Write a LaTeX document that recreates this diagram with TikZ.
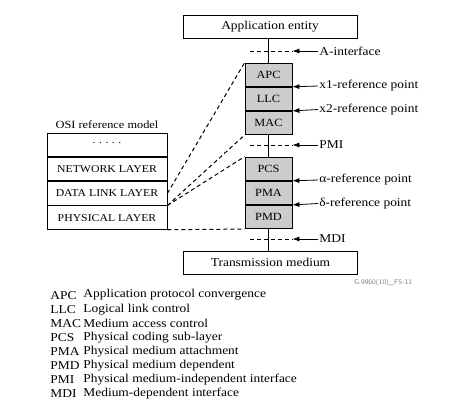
\documentclass[tikz,border=0pt]{standalone}
\usepackage{fontspec}
\setmainfont{Liberation Serif}[FakeStretch=1.12]
\usetikzlibrary{positioning,arrows.meta}

\tikzset{
  capa/.style={draw, fill=gray!40, minimum width=47pt, minimum height=23.33pt,
    inner sep=0pt, font=\fontsize{11}{12}\selectfont},
  osicapa/.style={draw, minimum width=120pt, minimum height=23.5pt,
    inner sep=0pt, font=\fontsize{10.5}{11}\selectfont},
  caja/.style={draw, minimum width=174pt, minimum height=23pt,
    inner sep=0pt, font=\fontsize{12}{13}\selectfont},
  etiq/.style={anchor=west, inner sep=1pt, font=\fontsize{12}{13}\selectfont},
  leyenda/.style={anchor=west, inner sep=0pt, font=\fontsize{12}{13}\selectfont},
  flecha/.style={-{Latex[length=7pt,width=5pt]}, line width=0.8pt},
  interfaz/.style={dash pattern=on 4pt off 3pt, line width=1pt},
  enlace/.style={dash pattern=on 4pt off 3pt, line width=1pt},
}

\begin{document}
\begin{tikzpicture}[x=1pt, y=-1pt, line width=0.8pt, node distance=0pt]
  \useasboundingbox (0,0) rectangle (470,400);
  % Cajas extremas
  \node[caja] (app) at (270,26.5) {Application entity};
  \node[caja] (med) at (270.5,262.5) {Transmission medium};
  % Pila superior
  \node[capa] (apc) at (268.5,74.7) {APC};
  \node[capa, below=of apc] (llc) {LLC};
  \node[capa, below=of llc] (mac) {MAC};
  % Pila inferior
  \node[capa] (pcs) at (268.5,168.7) {PCS};
  \node[capa, below=of pcs] (pma) {PMA};
  \node[capa, below=of pma] (pmd) {PMD};
  % Lineas verticales
  \draw (apc.north) -- (apc.north |- app.south);
  \draw (mac.south) -- (pcs.north);
  \draw (pmd.south) -- (pmd.south |- med.north);
  % Interfaces y puntos de referencia
  \node[etiq] (ainf) at (318,51) {A-interface};
  \node[etiq] (xone) at (318,86) {x1-reference point};
  \node[etiq] (xtwo) at (318,109.5) {x2-reference point};
  \node[etiq] (pmi) at (318,145) {PMI};
  \node[etiq] (alfa) at (318,180) {α-reference point};
  \node[etiq] (delta) at (318,203.5) {δ-reference point};
  \node[etiq] (mdi) at (318,239) {MDI};
  \draw[interfaz] ([xshift=5pt]apc.west |- ainf.west) -- (apc.east |- ainf.west);
  \draw[interfaz] ([xshift=5pt]apc.west |- pmi.west) -- (apc.east |- pmi.west);
  \draw[interfaz] ([xshift=5pt]apc.west |- mdi.west) -- (apc.east |- mdi.west);
  \draw[flecha] (ainf.west) -- (apc.east |- ainf.west);
  \draw[flecha] (xone.west) -- (apc.south east);
  \draw[flecha] (xtwo.west) -- (llc.south east);
  \draw[flecha] (pmi.west) -- (apc.east |- pmi.west);
  \draw[flecha] (alfa.west) -- (pcs.south east);
  \draw[flecha] (delta.west) -- (pma.south east);
  \draw[flecha] (mdi.west) -- (apc.east |- mdi.west);
  % Modelo OSI
  \node[font=\fontsize{11}{12}\selectfont] (osi) at (107,125) {OSI reference model};
  \node[osicapa] (dots) at (107,144.7) {·\hspace{2.5pt}·\hspace{2.5pt}·\hspace{2.5pt}·\hspace{2.5pt}·};
  \node[osicapa, below=of dots] (net) {NETWORK LAYER};
  \node[osicapa, below=of net] (dl) {DATA LINK LAYER};
  \node[osicapa, below=of dl] (phy) {PHYSICAL LAYER};
  % Correspondencias punteadas
  \draw[enlace] (dl.east) -- (apc.north west);
  \draw[enlace] (dl.south east) -- (mac.south west);
  \draw[enlace] (dl.south east) -- (pcs.north west);
  \draw[enlace] (phy.south east) -- (pmd.south west);
  % Referencia de figura
  \node[gray, font=\sffamily\fontsize{7}{8}\selectfont] (fig) at (383,283) {G.9960(10)\_F5-11};
  % Leyenda
  \foreach \abr/\txt [count=\i] in {APC/Application protocol convergence,
      LLC/Logical link control, MAC/Medium access control,
      PCS/Physical coding sub-layer, PMA/Physical medium attachment,
      PMD/Physical medium dependent, PMI/Physical medium-independent interface,
      MDI/Medium-dependent interface} {
    \node[leyenda] (abr\i) at (50,{281+14.1*\i}) {\abr};
    \node[leyenda] (txt\i) at (83,{281+14.1*\i}) {\txt};
  }
\end{tikzpicture}
\end{document}
